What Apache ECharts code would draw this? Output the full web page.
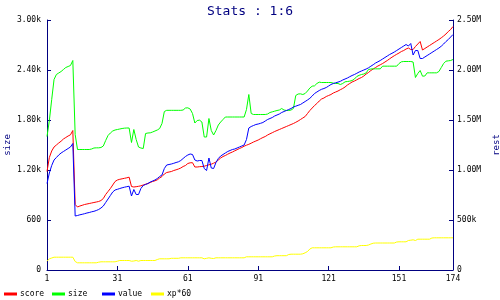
<!DOCTYPE html>
<html>
<head>
<meta charset="utf-8">
<script src="https://cdn.jsdelivr.net/npm/echarts@6/dist/echarts.min.js"></script>
<style>html,body{margin:0;padding:0;background:#fff}#c{width:500px;height:300px}</style>
</head>
<body>
<div id="c"></div>
<script>
var titleText = 'Stats : 1:6';
var seriesNames = ['score', 'size', 'value', 'xp*60'];
var xTickLabels = ['1', '31', '61', '91', '121', '151', '174'];
var leftTickLabels = ['0', '600', '1.20k', '1.80k', '2.40k', '3.00k'];
var rightTickLabels = ['0', '500k', '1.00M', '1.50M', '2.00M', '2.50M'];
var categories = [];
for (var k = 1; k <= 174; k++) categories.push(String(k));

// score, value, xp*60 in thousands (right axis "rest"); size on left axis
var score = [985,1125,1190,1230,1250,1270,1288,1310,1325,1340,
1352,1395,655,630,640,647,655,660,665,670,
675,680,685,695,715,755,785,815,850,885,
900,907,912,917,922,928,835,830,833,837,
842,850,858,865,875,885,892,902,920,935,
960,975,980,985,995,1002,1010,1020,1035,1045,
1065,1072,1073,1030,1030,1033,1035,1038,1045,1052,
1058,1068,1080,1100,1120,1135,1145,1158,1170,1180,
1192,1203,1215,1225,1238,1248,1257,1268,1280,1290,
1300,1313,1325,1335,1350,1362,1373,1385,1395,1405,
1415,1425,1435,1445,1455,1465,1477,1490,1505,1520,
1535,1565,1595,1620,1645,1665,1690,1710,1720,1735,
1745,1755,1770,1780,1790,1803,1815,1830,1850,1865,
1880,1890,1902,1915,1925,1940,1960,1975,1995,2010,
2025,2040,2052,2065,2080,2095,2112,2128,2143,2157,
2170,2185,2195,2210,2220,2205,2205,2235,2260,2285,
2200,2215,2230,2245,2260,2275,2290,2305,2322,2340,
2360,2385,2405,2435];

var size = [1602,1794,2046,2286,2346,2364,2382,2406,2430,2442,
2454,2514,1626,1446,1446,1446,1446,1446,1446,1452,
1464,1466,1466,1470,1488,1554,1614,1644,1668,1680,
1686,1692,1698,1702,1704,1704,1530,1686,1566,1476,
1464,1458,1638,1644,1646,1656,1668,1680,1698,1758,
1902,1916,1916,1916,1916,1916,1916,1916,1920,1944,
1946,1932,1878,1764,1794,1798,1776,1596,1596,1818,
1674,1620,1674,1740,1776,1806,1836,1836,1836,1836,
1836,1836,1836,1836,1836,1926,2106,1878,1866,1866,
1866,1866,1866,1866,1872,1890,1898,1906,1914,1920,
1938,1920,1914,1914,1920,1938,2094,2112,2114,2106,
2118,2148,2184,2206,2210,2238,2254,2250,2250,2250,
2250,2250,2242,2238,2238,2226,2238,2258,2262,2266,
2274,2292,2322,2336,2346,2352,2366,2406,2412,2414,
2414,2414,2414,2446,2446,2446,2446,2446,2446,2446,
2478,2498,2502,2502,2502,2502,2496,2310,2358,2394,
2326,2328,2366,2366,2366,2366,2366,2382,2430,2478,
2506,2510,2514,2526];

var value = [865,970,1045,1100,1125,1150,1170,1185,1200,1215,
1230,1265,540,545,552,557,563,570,575,582,
587,595,605,620,640,675,710,745,780,800,
807,815,822,828,833,838,740,805,755,755,
815,845,855,865,880,890,900,915,935,950,
1015,1050,1055,1060,1067,1075,1082,1095,1115,1135,
1150,1160,1155,1100,1090,1095,1095,1015,995,1120,
1020,1015,1075,1115,1140,1155,1170,1185,1195,1205,
1210,1220,1230,1240,1250,1305,1420,1435,1445,1455,
1460,1467,1475,1490,1505,1515,1525,1540,1550,1560,
1575,1585,1595,1605,1615,1630,1638,1647,1655,1670,
1685,1700,1717,1740,1765,1780,1795,1807,1815,1825,
1840,1855,1865,1872,1879,1887,1900,1910,1920,1933,
1945,1955,1967,1980,1990,2000,2010,2022,2038,2053,
2070,2082,2095,2110,2125,2140,2155,2167,2180,2195,
2210,2225,2240,2255,2240,2265,2150,2195,2195,2115,
2115,2130,2145,2160,2175,2190,2205,2220,2238,2260,
2285,2305,2330,2355];

var xp60 = [88,112,120,128,128,128,128,128,128,128,
128,128,85,72,72,72,72,72,72,72,
72,72,78,82,82,82,82,82,82,82,
88,95,95,95,95,95,88,90,95,88,
95,95,95,95,95,95,95,105,112,112,
112,112,112,117,117,117,117,122,122,122,
122,122,122,122,122,122,122,112,117,122,
117,115,122,122,122,122,122,122,122,122,
122,122,122,122,122,132,132,132,132,132,
132,132,132,132,132,132,132,140,143,143,
143,143,143,155,158,158,158,158,158,162,
172,185,210,222,222,222,222,222,222,222,
222,222,230,232,232,232,232,232,232,232,
232,232,232,242,245,245,245,250,260,268,
270,270,270,270,270,270,270,270,270,280,
282,282,282,282,295,298,302,295,308,308,
308,308,308,308,320,322,322,322,322,322,
322,322,322,322];

var colors = ['#ff0000', '#00ff00', '#0000ff', '#ffff00'];
var legendLeft = [4, 52, 102, 151];
var navy = '#000080';
var mono = 'DejaVu Sans Mono';

function isXTick(idx) { return xTickLabels.indexOf(categories[idx]) >= 0; }

var chart = echarts.init(document.getElementById('c'), null, {renderer: 'canvas'});
var mk = function (name, data, yIdx, color) {
  return {
    name: name, type: 'line', data: data, yAxisIndex: yIdx,
    showSymbol: false, symbol: 'none', animation: false,
    lineStyle: {width: 1, color: color}, itemStyle: {color: color}
  };
};
var legends = seriesNames.map(function (n, i) {
  return {
    left: legendLeft[i], top: 290, itemGap: 0, itemWidth: 13, itemHeight: 3,
    icon: 'rect', padding: 0,
    textStyle: {fontFamily: mono, fontSize: 8, color: '#000', padding: [0, 0, 0, -2]},
    data: [n]
  };
});
chart.setOption({
  animation: false,
  backgroundColor: '#ffffff',
  title: {
    text: titleText, left: 'center', top: 0,
    textStyle: {fontFamily: mono, fontSize: 13, fontWeight: 'normal', color: navy}
  },
  legend: legends,
  grid: {left: 47, right: 47, top: 20, bottom: 30, containLabel: false, outerBoundsMode: 'none'},
  xAxis: {
    type: 'category', data: categories, boundaryGap: false,
    axisLine: {lineStyle: {color: navy, width: 1}},
    axisTick: {inside: true, length: 4, interval: function (i) { return isXTick(i); }, lineStyle: {color: navy}},
    axisLabel: {interval: function (i) { return isXTick(i); }, fontFamily: mono, fontSize: 8, color: '#000', margin: 5},
    splitLine: {show: false}
  },
  yAxis: [{
    type: 'value', min: 0, max: 3000, interval: 600, position: 'left',
    name: 'size', nameLocation: 'middle', nameRotate: 90, nameGap: 35, nameMoveOverlap: false,
    nameTextStyle: {fontFamily: mono, fontSize: 9, color: navy},
    axisLine: {show: true, lineStyle: {color: navy, width: 1}},
    axisTick: {show: true, inside: true, length: 4, lineStyle: {color: navy}},
    axisLabel: {fontFamily: mono, fontSize: 8, color: '#000', margin: 6,
      formatter: function (v) { return leftTickLabels[Math.round(v / 600)]; }},
    splitLine: {show: false}
  }, {
    type: 'value', min: 0, max: 2500, interval: 500, position: 'right',
    name: 'rest', nameLocation: 'middle', nameRotate: 90, nameGap: 39, nameMoveOverlap: false,
    nameTextStyle: {fontFamily: mono, fontSize: 9, color: navy},
    axisLine: {show: true, lineStyle: {color: navy, width: 1}},
    axisTick: {show: true, inside: true, length: 4, lineStyle: {color: navy}},
    axisLabel: {fontFamily: mono, fontSize: 8, color: '#000', margin: 4,
      formatter: function (v) { return rightTickLabels[Math.round(v / 500)]; }},
    splitLine: {show: false}
  }],
  series: [
    mk(seriesNames[0], score, 1, colors[0]),
    mk(seriesNames[1], size, 0, colors[1]),
    mk(seriesNames[2], value, 1, colors[2]),
    mk(seriesNames[3], xp60, 1, colors[3])
  ]
});
</script>
</body>
</html>
